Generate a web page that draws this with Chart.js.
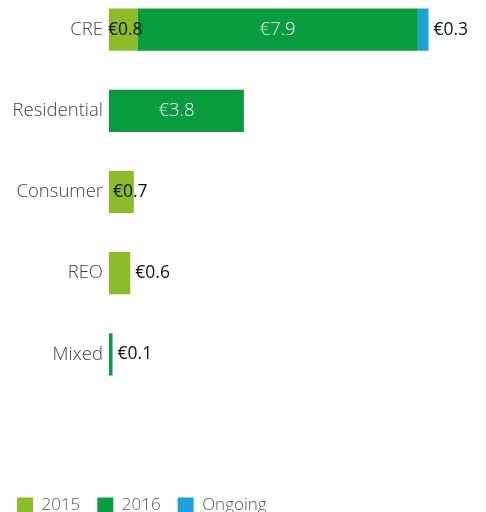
<!DOCTYPE html>
<html><head><meta charset="utf-8">
<script src="https://cdn.jsdelivr.net/npm/chart.js@4/dist/chart.umd.min.js"></script>
<style>
html,body{margin:0;padding:0;background:#fff;overflow:hidden;}
#wrap{position:absolute;left:0;top:-11px;width:486px;height:535px;}
</style></head>
<body>
<div id="wrap"><canvas id="c" width="486" height="535"></canvas></div>
<script>
const categories = ['CRE', 'Residential', 'Consumer', 'REO', 'Mixed'];
const seriesNames = ['2015', '2016', 'Ongoing'];
const v2015 = [0.8, null, 0.7, 0.6, null];
const v2016 = [7.9, 3.8, null, null, 0.1];
const vOngoing = [0.3, null, null, null, null];
const colors = ['#8CBD28', '#079C3E', '#1DA1DB'];

const FONT = '"Open Sans", "Noto Sans", sans-serif';

const labelPlugin = {
  id: 'valueLabels',
  afterDatasetsDraw(chart) {
    const ctx = chart.ctx;
    const xs = chart.scales.x;
    ctx.save();
    ctx.textBaseline = 'middle';
    const lightFont = '300 18.5px ' + FONT;
    const darkFont = '400 17.5px ' + FONT;
    const n = chart.data.labels.length;
    for (let i = 0; i < n; i++) {
      let last = -1;
      chart.data.datasets.forEach((ds, d) => { if (ds.data[i] != null && ds.data[i] > 0) last = d; });
      let base = 0;
      chart.data.datasets.forEach((ds, d) => {
        const v = ds.data[i];
        if (v == null || v <= 0) return;
        const el = chart.getDatasetMeta(d).data[i];
        const x0 = xs.getPixelForValue(base);
        const x1 = xs.getPixelForValue(base + v);
        base += v;
        const y = el.y;
        const txt = '€' + v.toFixed(1);
        ctx.font = darkFont;
        const tw = ctx.measureText(txt).width;
        const w = x1 - x0;
        if (w >= tw + 8) {
          ctx.font = lightFont;
          ctx.fillStyle = '#ffffff';
          ctx.textAlign = 'center';
          ctx.fillText(txt, (x0 + x1) / 2, y);
        } else if (w >= 24) {
          ctx.fillStyle = '#111111';
          if (d === last) {
            ctx.textAlign = 'left';
            ctx.fillText(txt, x0 + 4, y);
          } else {
            ctx.textAlign = 'center';
            ctx.fillText(txt, (x0 + x1) / 2 + 2, y);
          }
        } else {
          ctx.fillStyle = '#111111';
          ctx.textAlign = 'left';
          ctx.fillText(txt, x1 + 5, y);
        }
      });
    }
    ctx.restore();
  }
};

new Chart(document.getElementById('c'), {
  type: 'bar',
  data: {
    labels: categories,
    datasets: [
      { label: seriesNames[0], data: v2015, backgroundColor: colors[0] },
      { label: seriesNames[1], data: v2016, backgroundColor: colors[1] },
      { label: seriesNames[2], data: vOngoing, backgroundColor: colors[2] }
    ]
  },
  options: {
    indexAxis: 'y',
    responsive: false,
    animation: false,
    devicePixelRatio: 1,
    layout: { padding: { left: 0, right: 22, top: 0, bottom: 0 } },
    datasets: { bar: { categoryPercentage: 1, barPercentage: 0.52, borderWidth: 0 } },
    scales: {
      x: {
        stacked: true, min: 0, max: 10,
        grid: { display: false, drawTicks: false },
        border: { display: false },
        ticks: { display: false },
        afterFit(axis) { axis.height = 85; axis.paddingLeft = 0; axis.paddingRight = 0; }
      },
      y: {
        stacked: true,
        grid: { display: false, drawTicks: false },
        border: { display: false },
        ticks: { color: '#444', font: { family: FONT, size: 18.5, weight: '300' }, padding: 6 },
        afterFit(axis) { axis.width = 109; axis.paddingTop = 0; axis.paddingBottom = 0; }
      }
    },
    plugins: {
      legend: {
        position: 'bottom', align: 'start',
        labels: { boxWidth: 16, boxHeight: 16, padding: 17, color: '#555',
          font: { family: FONT, size: 17, weight: '300' } }
      },
      tooltip: { enabled: false }
    }
  },
  plugins: [labelPlugin]
});
</script>
</body></html>
